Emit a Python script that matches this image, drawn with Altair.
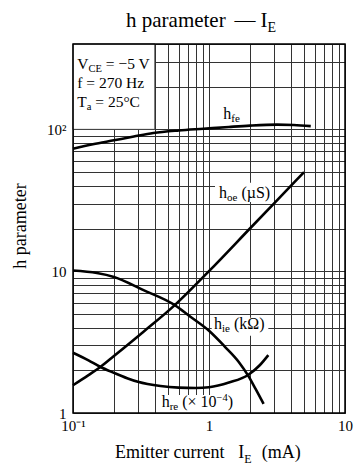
import altair as alt
import pandas as pd

# ---------------- data ----------------
hfe_x = [0.1, 0.14, 0.2, 0.28, 0.39, 0.6, 0.91, 1.4, 2.0, 3.15, 4.2, 5.6]
hfe_y = [73, 78.5, 83.7, 89, 94.2, 98.2, 101, 104, 106.3, 108, 107.5, 105.5]

hoe_x = [0.1, 0.13, 0.158, 0.2, 0.33, 0.56, 1.0, 2.0, 3.0, 5.0]
hoe_y = [1.57, 1.85, 2.1, 2.52, 3.74, 5.76, 10, 20, 30, 50]

hie_x = [0.1, 0.15, 0.2, 0.33, 0.56, 0.73, 1.0, 1.31, 1.65, 1.95, 2.2, 2.52]
hie_y = [10.1, 9.7, 9.1, 7.35, 5.76, 4.77, 3.8, 2.93, 2.3, 1.82, 1.48, 1.16]

hre_x = [0.1, 0.13, 0.158, 0.2, 0.25, 0.3, 0.44, 0.6, 0.8, 1.0, 1.4, 1.95, 2.37, 2.73]
hre_y = [2.66, 2.35, 2.12, 1.92, 1.76, 1.66, 1.55, 1.51, 1.5, 1.52, 1.64, 1.86, 2.18, 2.56]

x_domain = [0.1, 10]
y_domain = [1, 400]
grid_x = [0.1, 0.2, 0.3, 0.4, 0.5, 0.6, 0.7, 0.8, 0.9, 1, 2, 3, 4, 5, 6, 7, 8, 9, 10]
grid_y = [1, 2, 3, 4, 5, 6, 7, 8, 9, 10, 20, 30, 40, 50, 60, 70, 80, 90, 100, 200, 300, 400]

# white masks (condition box and label backgrounds), in data units
mask_x1 = [0.1, 1.107, 1.047, 0.41]
mask_x2 = [0.4, 2.9, 2.73, 1.95]
mask_y1 = [100, 30.8, 3.5, 1.0]
mask_y2 = [400, 42, 4.7, 1.34]

FONT = "Liberation Serif"

# ---------------- helpers ----------------
W = {' ': 250, '(': 333, ')': 333, '=': 564, '−': 564, '×': 564, '°': 400, 'µ': 500,
     'Ω': 768, '—': 1000, 'A': 722, 'C': 667, 'E': 611, 'H': 722, 'I': 333, 'S': 556,
     'T': 611, 'V': 722, 'a': 444, 'c': 444, 'e': 444, 'f': 333, 'h': 500, 'i': 278,
     'k': 500, 'm': 778, 'n': 500, 'o': 500, 'p': 500, 'r': 333, 't': 278, 'u': 500,
     'z': 444}


def tw(s, size):
    return sum(W.get(c, 500) for c in s) / 1000 * size


xs = alt.Scale(type="log", domain=x_domain, nice=False)
ys = alt.Scale(type="log", domain=y_domain, nice=False)

AXX = alt.Axis(
    values=grid_x, grid=True, gridColor="#333", gridWidth=1, ticks=False, domain=False,
    title=None, labelFont=FONT, labelFontSize=15, labelColor="black", labelFlush=False,
    labelOverlap=False, labelBaseline="alphabetic", labelPadding=17,
    labelExpr="abs(datum.value-0.1)<1e-9 ? '10⁻¹' : abs(datum.value-1)<1e-9 ? '1' : abs(datum.value-10)<1e-9 ? '10' : ''",
)
AXY = alt.Axis(
    values=grid_y, grid=True, gridColor="#333", gridWidth=1, ticks=False, domain=False,
    title=None, labelFont=FONT, labelFontSize=15, labelColor="black", labelFlush=False,
    labelOverlap=False, labelPadding=7,
    labelExpr="abs(datum.value-1)<1e-9 ? '1' : abs(datum.value-10)<1e-9 ? '10' : abs(datum.value-100)<1e-9 ? '10²' : ''",
)

dummy = pd.DataFrame([{"k": 0}])


def rich(ax, ay, segs, base_dx=0.0, base_dy=0.0, data_coords=True):
    out = []
    off = 0.0
    for text, size, dy in segs:
        lead = len(text) - len(text.lstrip(" "))
        shown = text.strip(" ")
        if data_coords:
            enc = dict(x=alt.XDatum(ax, scale=xs, axis=AXX), y=alt.YDatum(ay, scale=ys, axis=AXY))
        else:
            enc = dict(x=alt.value(ax), y=alt.value(ay))
        out.append(
            alt.Chart(dummy).mark_text(
                align="left", baseline="alphabetic",
                dx=base_dx + off + tw(" " * lead, size), dy=base_dy + dy,
                fontSize=size, font=FONT, color="black",
            ).encode(text=alt.value(shown), **enc)
        )
        off += tw(text, size)
    return out


# ---------------- layers ----------------
rows = []
for name, xv, yv in [("hfe", hfe_x, hfe_y), ("hoe", hoe_x, hoe_y),
                     ("hie", hie_x, hie_y), ("hre", hre_x, hre_y)]:
    for a, b in zip(xv, yv):
        rows.append({"curve": name, "x": a, "y": b})
curves_df = pd.DataFrame(rows)

masks_df = pd.DataFrame({"x1": mask_x1, "x2": mask_x2, "y1": mask_y1, "y2": mask_y2})

masks = alt.Chart(masks_df).mark_rect(fill="white", strokeWidth=0).encode(
    x=alt.X("x1:Q", scale=xs, axis=AXX), x2="x2:Q",
    y=alt.Y("y1:Q", scale=ys, axis=AXY), y2="y2:Q",
)
cond_box = alt.Chart(masks_df.iloc[[0]]).mark_rect(fill="white", stroke="#333", strokeWidth=1).encode(
    x=alt.X("x1:Q", scale=xs, axis=AXX), x2="x2:Q",
    y=alt.Y("y1:Q", scale=ys, axis=AXY), y2="y2:Q",
)

lines = alt.Chart(curves_df).mark_line(color="black", strokeWidth=2.6, interpolate="monotone").encode(
    x=alt.X("x:Q", scale=xs, axis=AXX),
    y=alt.Y("y:Q", scale=ys, axis=AXY),
    detail="curve:N",
)

frame = alt.Chart(dummy).mark_rect(filled=False, stroke="black", strokeWidth=1.5).encode(
    x=alt.XDatum(x_domain[0], scale=xs, axis=AXX), x2=alt.X2Datum(x_domain[1]),
    y=alt.YDatum(y_domain[0], scale=ys, axis=AXY), y2=alt.Y2Datum(y_domain[1]),
)

texts = []
# curve labels
texts += rich(1.274, 117.6, [("h", 16, 0), ("fe", 11, 3)])
texts += rich(1.185, 33.0, [("h", 16, 0), ("oe", 11, 3), (" (µS)", 16, 0)])
texts += rich(1.088, 3.886, [("h", 16, 0), ("ie", 11, 3), (" (kΩ)", 16, 0)])
texts += rich(0.449, 1.108, [("h", 16, 0), ("re", 11, 3), (" (× 10", 16, 0), ("−4", 10.5, -6), (")", 16, 0)])
# condition box
texts += rich(0.1, 400, [("V", 15.5, 0), ("CE", 10.5, 3), (" = −5 V", 15.5, 0)], base_dx=4.3, base_dy=25.3)
texts += rich(0.1, 400, [("f = 270 Hz", 15.5, 0)], base_dx=4.3, base_dy=43.7)
texts += rich(0.1, 400, [("T", 15.5, 0), ("a", 10.5, 3), (" = 25°C", 15.5, 0)], base_dx=4.3, base_dy=62.7)
# chart title
texts += rich(53, -17.3, [("h parameter", 21, 0)], data_coords=False)
texts += rich(161.5, -17.3, [("—", 21, 0)], data_coords=False)
texts += rich(187.5, -17.3, [("I", 21, 0), ("E", 14, 5)], data_coords=False)
# x-axis title
texts += rich(42, 413.5, [("Emitter current", 18, 0)], data_coords=False)
texts += rich(165.3, 413.5, [("I", 18, 0), ("E", 12, 5)], data_coords=False)
texts += rich(188.7, 413.5, [("(mA)", 18, 0)], data_coords=False)
# y-axis title
ytitle = alt.Chart(dummy).mark_text(
    angle=270, align="center", baseline="alphabetic", fontSize=18, font=FONT, color="black"
).encode(x=alt.value(-47), y=alt.value(182), text=alt.value("h parameter"))
texts.append(ytitle)

chart = alt.layer(masks, cond_box, lines, frame, *texts).properties(
    width=272, height=369,
    autosize=alt.AutoSizeParams(type="none"),
    padding={"left": 65, "top": 36, "right": 9, "bottom": 51},
    background="white",
).configure_view(stroke=None)

chart.save("out.html", embed_options={"renderer": "svg", "actions": False})
